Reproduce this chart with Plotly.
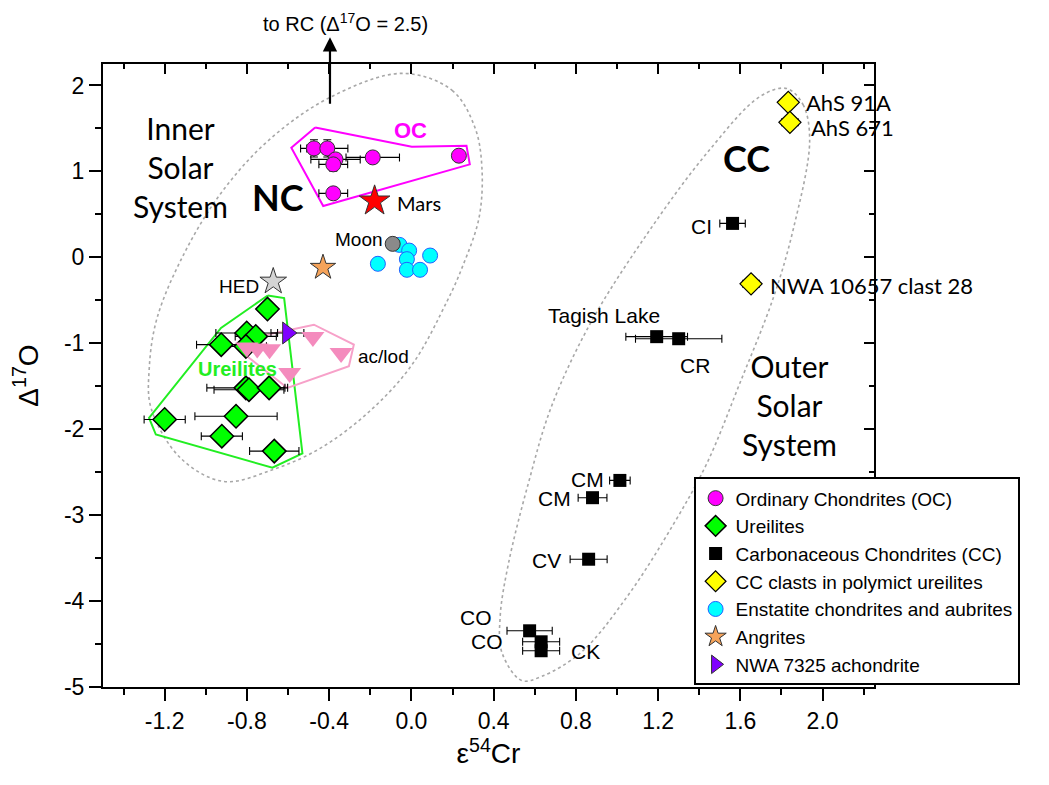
import plotly.graph_objects as go

# ---------------- data ----------------
OC_X = [-0.474, -0.409, -0.369, -0.380, -0.188, 0.231, -0.380]
OC_Y = [1.268, 1.268, 1.140, 1.082, 1.163, 1.183, 0.745]
OC_XERR = [0.065, 0.10, 0.12, 0.07, 0.13, 0.02, 0.07]
OC_YERR = [0.10, 0.10, 0.06, 0.08, 0.05, 0.05, 0.03]

URE_X = [-0.700, -0.801, -0.757, -0.925, -0.805, -0.805, -0.790, -0.692, -1.200, -0.853, -0.922, -0.667]
URE_Y = [-0.602, -0.880, -0.920, -1.016, -1.036, -1.519, -1.540, -1.519, -1.887, -1.849, -2.081, -2.255]
URE_XERR = [0.0, 0.15, 0.10, 0.12, 0.10, 0.19, 0.17, 0.09, 0.10, 0.20, 0.10, 0.12]

CC_NAMES = ["CI", "Tagish Lake", "CR", "CM", "CM", "CV", "CO", "CO", "CK"]
CC_X = [1.562, 1.193, 1.300, 1.014, 0.881, 0.862, 0.575, 0.631, 0.631]
CC_Y = [0.395, -0.923, -0.947, -2.596, -2.797, -3.513, -4.346, -4.474, -4.578]
CC_XERR = [0.062, 0.15, 0.21, 0.05, 0.07, 0.09, 0.11, 0.09, 0.09]

CLAST_NAMES = ["AhS 91A", "AhS 671", "NWA 10657 clast 28"]
CLAST_X = [1.833, 1.841, 1.652]
CLAST_Y = [1.804, 1.571, -0.308]
CLAST_XERR = [0.02, 0.04, 0.04]
CLAST_YERR = [0.08, 0.07, 0.07]

EC_X = [-0.058, -0.011, 0.091, -0.163, -0.022, -0.022, 0.042]
EC_Y = [0.145, 0.079, 0.021, -0.075, -0.021, -0.145, -0.145]

ANG_X = [-0.430]
ANG_Y = [-0.118]

NWA7325_X = [-0.603]
NWA7325_Y = [-0.880]
NWA7325_XERR = [0.08]

ACLOD_X = [-0.800, -0.750, -0.690, -0.479, -0.342, -0.592]
ACLOD_Y = [-1.050, -1.060, -1.070, -0.927, -1.113, -1.345]

MARS_X, MARS_Y = [-0.179], [0.656]
MOON_X, MOON_Y = [-0.091], [0.157]
HED_X, HED_Y = [-0.672], [-0.281]

# group outlines (vertices)
OC_POLY_X = [-0.468, 0.002, 0.268, 0.284, -0.429, -0.584, -0.468]
OC_POLY_Y = [1.512, 1.287, 1.298, 1.082, 0.598, 1.275, 1.512]
URE_POLY_X = [-0.699, -0.619, -0.530, -0.676, -1.243, -1.276, -0.926, -0.699]
URE_POLY_Y = [-0.444, -0.474, -2.282, -2.448, -2.062, -1.868, -0.822, -0.444]
AC_POLY_X = [-0.813, -0.474, -0.280, -0.304, -0.603, -0.805, -0.813]
AC_POLY_Y = [-0.958, -0.784, -1.016, -1.268, -1.520, -1.141, -0.958]

NC_FIELD_X = [-0.043, 0.198, 0.309, 0.343, 0.329, 0.246, 0.174, 0.005, -0.203, -0.444,
              -0.671, -0.913, -1.121, -1.266, -1.275, -1.237, -1.106, -0.928, -0.696, -0.396, -0.043]
NC_FIELD_Y = [2.141, 1.943, 1.511, 1.044, 0.461, -0.123, -0.508, -1.243, -1.791, -2.223,
              -2.468, -2.608, -2.340, -1.756, -1.289, -0.706, 0.041, 0.741, 1.359, 1.861, 2.141]
CC_FIELD_X = [1.825, 1.905, 1.937, 1.857, 1.760, 1.599, 1.438, 1.277, 1.052, 0.826, 0.633,
              0.536, 0.440, 0.432, 0.472, 0.569, 0.681, 0.874, 1.148, 1.438, 1.696, 1.825]
CC_FIELD_Y = [1.965, 1.777, 1.356, 0.324, -0.473, -1.456, -2.393, -3.096, -3.939, -4.596, -4.877,
              -4.924, -4.596, -4.174, -3.565, -2.628, -1.737, -0.753, 0.278, 1.215, 1.872, 1.965]

X_TICKS = [-1.2, -0.8, -0.4, 0.0, 0.4, 0.8, 1.2, 1.6, 2.0]
X_TICK_LABELS = ["-1.2", "-0.8", "-0.4", "0.0", "0.4", "0.8", "1.2", "1.6", "2.0"]
Y_TICKS = [-5, -4, -3, -2, -1, 0, 1, 2]
Y_TICK_LABELS = ["-5", "-4", "-3", "-2", "-1", "0", "1", "2"]
X_RANGE = [-1.5, 2.25]
Y_RANGE = [-5, 2.25]

ARIAL = "Liberation Sans, Arial, sans-serif"
CALIBRI = "Lato, Carlito, Calibri, sans-serif"

fig = go.Figure()

# dotted fields
for fx, fy in [(NC_FIELD_X, NC_FIELD_Y), (CC_FIELD_X, CC_FIELD_Y)]:
    fig.add_trace(go.Scatter(x=fx, y=fy, mode="lines",
                             line=dict(color="#a8a8a8", width=1.6, dash="dot", shape="spline", smoothing=1.0),
                             showlegend=False, hoverinfo="skip"))

# group polygons
fig.add_trace(go.Scatter(x=OC_POLY_X, y=OC_POLY_Y, mode="lines", line=dict(color="#ff00ff", width=2),
                         showlegend=False, hoverinfo="skip"))
fig.add_trace(go.Scatter(x=URE_POLY_X, y=URE_POLY_Y, mode="lines", line=dict(color="#22ee22", width=2),
                         showlegend=False, hoverinfo="skip"))
fig.add_trace(go.Scatter(x=AC_POLY_X, y=AC_POLY_Y, mode="lines", line=dict(color="#f7a1c9", width=2),
                         showlegend=False, hoverinfo="skip"))

ERR = dict(type="data", color="black", thickness=1.1, width=4)

# legend traces
fig.add_trace(go.Scatter(x=OC_X, y=OC_Y, mode="markers", name="Ordinary Chondrites (OC)",
                         error_x=dict(ERR, array=OC_XERR), error_y=dict(ERR, array=OC_YERR),
                         marker=dict(symbol="circle", size=15, color="#ff00ff", line=dict(color="#333333", width=1))))
fig.add_trace(go.Scatter(x=URE_X, y=URE_Y, mode="markers", name="Ureilites",
                         error_x=dict(ERR, array=URE_XERR),
                         marker=dict(symbol="diamond", size=18, color="#00ff00", line=dict(color="black", width=1.5))))
fig.add_trace(go.Scatter(x=CC_X, y=CC_Y, mode="markers", name="Carbonaceous Chondrites (CC)",
                         error_x=dict(ERR, array=CC_XERR),
                         marker=dict(symbol="square", size=13, color="black", line=dict(color="black", width=0))))
fig.add_trace(go.Scatter(x=CLAST_X, y=CLAST_Y, mode="markers", name="CC clasts in polymict ureilites",
                         error_x=dict(ERR, array=CLAST_XERR), error_y=dict(ERR, array=CLAST_YERR),
                         marker=dict(symbol="diamond", size=17, color="#ffff00", line=dict(color="black", width=1.2))))
fig.add_trace(go.Scatter(x=EC_X, y=EC_Y, mode="markers", name="Enstatite chondrites and aubrites",
                         marker=dict(symbol="circle", size=15, color="#00ffff", line=dict(color="#2060ff", width=1))))
fig.add_trace(go.Scatter(x=ANG_X, y=ANG_Y, mode="markers", name="Angrites",
                         marker=dict(symbol="star", size=19, color="#f5a35a", line=dict(color="#333333", width=1))))
fig.add_trace(go.Scatter(x=NWA7325_X, y=NWA7325_Y, mode="markers", name="NWA 7325 achondrite",
                         error_x=dict(ERR, array=NWA7325_XERR),
                         marker=dict(symbol="triangle-right", size=19, color="#8000ff", line=dict(color="#333333", width=1))))

# non-legend markers
fig.add_trace(go.Scatter(x=ACLOD_X, y=ACLOD_Y, mode="markers", showlegend=False,
                         marker=dict(symbol="triangle-down", size=20, color="#f48bbd", line=dict(width=0))))
fig.add_trace(go.Scatter(x=MARS_X, y=MARS_Y, mode="markers", showlegend=False,
                         marker=dict(symbol="star", size=23, color="#ff0000", line=dict(color="#333333", width=1))))
fig.add_trace(go.Scatter(x=MOON_X, y=MOON_Y, mode="markers", showlegend=False,
                         marker=dict(symbol="circle", size=15, color="#8a8a8a", line=dict(color="#333333", width=1))))
fig.add_trace(go.Scatter(x=HED_X, y=HED_Y, mode="markers", showlegend=False,
                         marker=dict(symbol="star", size=20, color="#d4d4d4", line=dict(color="#333333", width=1))))

# dummy trace so the mirrored (top/right) axes are drawn
fig.add_trace(go.Scatter(x=[None], y=[None], xaxis="x2", yaxis="y2", showlegend=False, hoverinfo="skip"))

ann = []
def label(x, y, text, size=20, family=ARIAL, color="black", xanchor="center"):
    ann.append(dict(x=x, y=y, xref="x", yref="y", text=text, showarrow=False, xanchor=xanchor, yanchor="middle",
                    font=dict(size=size, family=family, color=color)))

label(-1.121, 1.051, "Inner<br>Solar<br>System", size=30, family=CALIBRI)
label(1.838, -1.718, "Outer<br>Solar<br>System", size=30, family=CALIBRI)
label(-0.648, 0.706, "<b>NC</b>", size=36, family=CALIBRI)
label(1.628, 1.151, "<b>CC</b>", size=36, family=CALIBRI)
label(-0.006, 1.473, "<b>OC</b>", size=22, color="#ff00ff")
label(-0.848, -1.299, "<b>Ureilites</b>", size=20, color="#22ee22")
label(-0.082, 0.637, "Mars", size=20, family=CALIBRI, xanchor="left")
label(-0.127, 0.203, "Moon", size=19, xanchor="right")
label(-0.732, -0.339, "HED", size=19, xanchor="right")
label(-0.269, -1.159, "ac/lod", size=19, xanchor="left")
label(1.911, 1.806, CLAST_NAMES[0], size=22, family=CALIBRI, xanchor="left")
label(1.933, 1.516, CLAST_NAMES[1], size=22, family=CALIBRI, xanchor="left")
label(1.733, -0.328, CLAST_NAMES[2], size=22, family=CALIBRI, xanchor="left")
label(1.470, 0.358, CC_NAMES[0], size=21, xanchor="right")
label(0.938, -0.677, CC_NAMES[1], size=21)
label(1.381, -1.260, CC_NAMES[2], size=21)
label(0.946, -2.584, CC_NAMES[3], size=21, xanchor="right")
label(0.788, -2.808, CC_NAMES[4], size=21, xanchor="right")
label(0.736, -3.525, CC_NAMES[5], size=21, xanchor="right")
label(0.402, -4.190, CC_NAMES[6], size=21, xanchor="right")
label(0.454, -4.474, CC_NAMES[7], size=21, xanchor="right")
label(0.768, -4.585, CC_NAMES[8], size=21, xanchor="left")

# arrow pointing off-scale (to RC) and its caption, placed above the frame
ann.append(dict(x=-0.322, y=1.066, xref="x", yref="paper", text="to RC (Δ<sup>17</sup>O = 2.5)", showarrow=False,
                xanchor="center", yanchor="middle", font=dict(size=20, family=ARIAL, color="black")))
ann.append(dict(x=-0.396, y=1.043, xref="x", yref="paper", ax=0, ay=68, axref="pixel", ayref="pixel", text="",
                showarrow=True, arrowhead=2, arrowsize=1.3, arrowwidth=2.2, arrowcolor="black"))

tickfont = dict(size=23, family=ARIAL, color="black")
fig.update_layout(
    width=1049, height=785,
    margin=dict(l=91, r=183, t=56, b=106),
    paper_bgcolor="white", plot_bgcolor="white",
    font=dict(family=ARIAL, color="black"),
    annotations=ann,
    xaxis=dict(range=X_RANGE, showgrid=False, zeroline=False, showline=True, linecolor="black", linewidth=2,
               ticks="outside", ticklen=12, tickwidth=2, tickcolor="black",
               tickvals=X_TICKS, ticktext=X_TICK_LABELS, tickfont=tickfont,
               minor=dict(dtick=0.2, tick0=0, ticks="outside", ticklen=6, tickwidth=2, tickcolor="black"),
               title=dict(text="ε<sup>54</sup>Cr", font=dict(size=28, family=ARIAL), standoff=0)),
    yaxis=dict(range=Y_RANGE, showgrid=False, zeroline=False, showline=True, linecolor="black", linewidth=2,
               ticks="outside", ticklen=12, tickwidth=2, tickcolor="black",
               tickvals=Y_TICKS, ticktext=Y_TICK_LABELS, tickfont=tickfont,
               minor=dict(dtick=0.5, tick0=0, ticks="outside", ticklen=6, tickwidth=2, tickcolor="black"),
               title=dict(text="Δ<sup>17</sup>O", font=dict(size=28, family=ARIAL), standoff=24)),
    xaxis2=dict(range=X_RANGE, overlaying="x", side="top", showgrid=False, zeroline=False, showline=True,
                linecolor="black", linewidth=2, ticks="inside", ticklen=10, tickwidth=2, tickcolor="black",
                tickvals=X_TICKS, showticklabels=False,
                minor=dict(dtick=0.2, tick0=0, ticks="inside", ticklen=5, tickwidth=2, tickcolor="black")),
    yaxis2=dict(range=Y_RANGE, overlaying="y", side="right", showgrid=False, zeroline=False, showline=True,
                linecolor="black", linewidth=2, ticks="inside", ticklen=10, tickwidth=2, tickcolor="black",
                tickvals=Y_TICKS, showticklabels=False,
                minor=dict(dtick=0.5, tick0=0, ticks="inside", ticklen=5, tickwidth=2, tickcolor="black")),
    legend=dict(x=0.766, y=0.3366, xanchor="left", yanchor="top", bgcolor="white", bordercolor="black", borderwidth=2,
                font=dict(size=19, family=ARIAL, color="black"), itemsizing="trace"),
    showlegend=True,
)

fig.write_html("out.html")
